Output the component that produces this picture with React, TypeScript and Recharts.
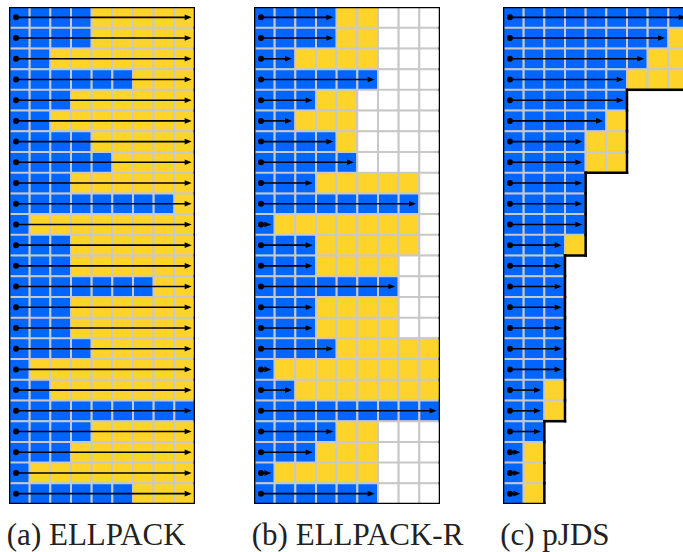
// Sparse storage formats: ELLPACK, ELLPACK-R and pJDS drawn as stacked unit bars
import { ComposedChart, Bar, Cell, XAxis, YAxis, ReferenceLine } from 'recharts';

// non-zeros per matrix row
const ROW_NNZ = [4, 4, 2, 6, 3, 2, 4, 5, 3, 8, 1, 3, 3, 7, 3, 3, 4, 1, 2, 9, 4, 3, 1, 6];
const MAX_WIDTH = 9;
const BLOCK_SIZE = 4;
const CAPTIONS = ['(a) ELLPACK', '(b) ELLPACK-R', '(c) pJDS'];

const BLUE = '#0066ff';
const YELLOW = '#ffd42a';
const GRID = '#c8c8c8';

const COLS = Array.from({ length: MAX_WIDTH }, (_, j) => j);
const NROWS = ROW_NNZ.length;
const ROW_NAMES = ROW_NNZ.map((_, i) => `r${i + 1}`);

const blockPad = (lens: number[]) =>
  lens.map((_, i) => {
    const s = Math.floor(i / BLOCK_SIZE) * BLOCK_SIZE;
    return Math.max(...lens.slice(s, s + BLOCK_SIZE));
  });

const sortedNnz = [...ROW_NNZ].sort((a, b) => b - a);
const fullWidth = ROW_NNZ.map(() => MAX_WIDTH);

const panels = [
  { nnz: ROW_NNZ, stored: fullWidth, arrows: fullWidth, frame: true, left: 8.7, textX: 6.8 },
  { nnz: ROW_NNZ, stored: blockPad(ROW_NNZ), arrows: ROW_NNZ, frame: true, left: 254.3, textX: 251.8 },
  { nnz: sortedNnz, stored: blockPad(sortedNnz), arrows: sortedNnz, frame: false, left: 502.7, textX: 500.2 },
];

const CHART_W = 186;
const CHART_H = 497;
const CHART_TOP = 7;

const Arrow = (p: any) => {
  const { x1, y1, x2, y2 } = p;
  const head = 7;
  const half = 2.8;
  return (
    <g>
      <line x1={x1} y1={y1} x2={x2 - head + 1} y2={y2} stroke="#000" strokeWidth={1.6} />
      <polygon points={`${x2},${y2} ${x2 - head},${y2 - half} ${x2 - head},${y2 + half}`} fill="#000" />
      <circle cx={x1} cy={y1} r={3} fill="#000" />
    </g>
  );
};

type Seg = { pts: { x: number; y: string }[]; position: 'start' | 'end' };

// vertical edge covering one full row band
const rowEdge = (x: number, i: number): Seg =>
  i < NROWS - 1
    ? { pts: [{ x, y: ROW_NAMES[i] }, { x, y: ROW_NAMES[i + 1] }], position: 'start' }
    : { pts: [{ x, y: ROW_NAMES[i - 1] }, { x, y: ROW_NAMES[i] }], position: 'end' };

const outlineSegments = (w: number[]) => {
  const segs: Seg[] = [];
  segs.push({ pts: [{ x: 0, y: ROW_NAMES[0] }, { x: w[0], y: ROW_NAMES[0] }], position: 'start' });
  w.forEach((v, i) => {
    segs.push(rowEdge(0, i));
    segs.push(rowEdge(v, i));
    if (i > 0 && w[i - 1] !== v)
      segs.push({ pts: [{ x: v, y: ROW_NAMES[i] }, { x: w[i - 1], y: ROW_NAMES[i] }], position: 'start' });
  });
  segs.push({
    pts: [{ x: 0, y: ROW_NAMES[NROWS - 1] }, { x: w[NROWS - 1], y: ROW_NAMES[NROWS - 1] }],
    position: 'end',
  });
  return segs;
};

const Panel = ({ nnz, stored, arrows, frame }: { nnz: number[]; stored: number[]; arrows: number[]; frame: boolean }) => {
  const data = nnz.map((n, i) => {
    const row: any = { row: ROW_NAMES[i] };
    COLS.forEach((j) => {
      row[`c${j}`] = frame || j < stored[i] ? 1 : null;
    });
    return row;
  });
  const colour = (i: number, j: number) => (j < nnz[i] ? BLUE : j < stored[i] ? YELLOW : '#ffffff');
  const border = outlineSegments(frame ? fullWidth : stored);

  return (
    <ComposedChart
      width={CHART_W}
      height={CHART_H}
      data={data}
      layout="vertical"
      margin={{ top: 0, right: 0, bottom: 0, left: 0 }}
      barCategoryGap={0}
      barGap={0}
    >
      <XAxis type="number" domain={[0, MAX_WIDTH]} allowDataOverflow hide />
      <YAxis type="category" dataKey="row" hide />
      {COLS.map((j) => (
        <Bar
          key={j}
          dataKey={`c${j}`}
          stackId="s"
          stroke={GRID}
          strokeWidth={2}
          isAnimationActive={false}
        >
          {data.map((_, i) => (
            <Cell key={i} fill={colour(i, j)} />
          ))}
        </Bar>
      ))}
      {arrows.map((n, i) => (
        <ReferenceLine
          key={`a${i}`}
          ifOverflow="visible"
          position="middle"
          segment={[
            { x: 0.34, y: ROW_NAMES[i] },
            { x: n - 0.16, y: ROW_NAMES[i] },
          ]}
          shape={Arrow}
        />
      ))}
      {border.map((s, k) => (
        <ReferenceLine
          key={`o${k}`}
          ifOverflow="visible"
          position={s.position}
          segment={s.pts}
          stroke="#000"
          strokeWidth={2.5}
          strokeLinecap="square"
        />
      ))}
    </ComposedChart>
  );
};

export default function App() {
  return (
    <div
      style={{
        position: 'absolute',
        left: 0,
        top: 0,
        width: 683,
        height: 552,
        overflow: 'hidden',
        background: '#fff',
      }}
    >
      {panels.map((p, k) => (
        <div key={k} style={{ position: 'absolute', left: p.left, top: CHART_TOP }}>
          <Panel nnz={p.nnz} stored={p.stored} arrows={p.arrows} frame={p.frame} />
        </div>
      ))}
      <svg width={683} height={552} style={{ position: 'absolute', left: 0, top: 0, pointerEvents: 'none' }}>
        {CAPTIONS.map((c, k) => (
          <text
            key={c}
            x={panels[k].textX}
            y={545}
            style={{ fontFamily: '"Liberation Serif", "Times New Roman", Times, serif', fontSize: 31 }}
            fill="#222"
          >
            {c}
          </text>
        ))}
      </svg>
    </div>
  );
}
